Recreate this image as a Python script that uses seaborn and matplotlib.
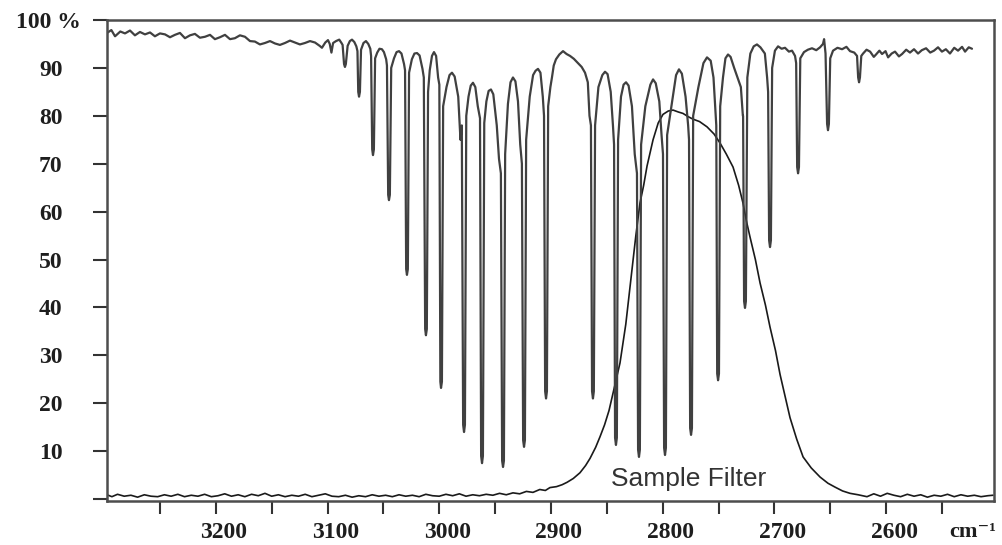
import matplotlib
matplotlib.use("Agg")
import matplotlib.pyplot as plt
from matplotlib.transforms import ScaledTranslation
import pandas as pd
import seaborn as sns

# ---------------- data ----------------
# absorption spectrum trace: wavenumber (cm-1) and transmission (%)
spec_wn = [
    3297.4, 3293.5, 3290.2, 3285.5, 3281.3, 3276.8, 3272.4, 3267.9, 3263.4, 3258.9,
    3254.5, 3250.0, 3245.5, 3241.0, 3236.6, 3232.1, 3227.6, 3223.1, 3218.7, 3214.2,
    3209.7, 3205.2, 3200.8, 3196.3, 3191.8, 3187.3, 3182.9, 3178.4, 3173.9, 3169.4,
    3165.0, 3160.5, 3156.0, 3151.5, 3147.0, 3142.6, 3138.1, 3133.6, 3129.1, 3124.7,
    3120.2, 3115.7, 3111.2, 3107.0, 3105.0, 3102.0, 3099.6, 3098.0, 3096.5, 3095.0,
    3092.4, 3089.5, 3087.5,
    3086.5, 3085.2, 3084.4, 3083.6, 3082.0,
    3080.0, 3078.1, 3076.0, 3074.2,
    3073.2, 3072.5, 3071.8, 3071.0, 3070.0,
    3067.8, 3065.6, 3063.5, 3061.7,
    3061.0, 3060.0, 3059.3, 3058.5, 3057.4,
    3055.5, 3053.5, 3051.3, 3049.5, 3047.5,
    3046.8, 3045.7, 3045.0, 3044.2, 3043.0,
    3040.5, 3038.2, 3036.0, 3033.8, 3031.5,
    3030.6, 3029.6, 3028.9, 3028.1, 3027.0,
    3024.5, 3022.2, 3019.9, 3017.6, 3015.0,
    3013.8, 3012.6, 3011.9, 3011.1, 3010.0,
    3008.5, 3006.5, 3004.7, 3002.8, 3001.0,
    2999.9, 2999.0, 2998.4, 2997.6, 2996.5,
    2993.5, 2990.8, 2988.6, 2986.2, 2983.0, 2981.0,
    2979.8, 2978.6, 2977.8, 2977.0, 2975.8,
    2973.8, 2971.8, 2969.8, 2967.7, 2965.5,
    2963.5, 2962.5, 2961.7, 2960.9, 2959.7,
    2957.8, 2955.8, 2953.7, 2951.6, 2948.5, 2946.5,
    2944.8, 2943.7, 2942.9, 2942.1, 2941.0,
    2938.5, 2936.2, 2934.0, 2931.8, 2929.5, 2927.5,
    2926.0, 2924.9, 2924.1, 2923.3, 2922.2,
    2919.0, 2916.0, 2913.8, 2911.6, 2909.4, 2907.3,
    2906.2, 2905.2, 2904.4, 2903.6, 2902.5,
    2900.5, 2899.1, 2897.5, 2895.5, 2892.5, 2889.2, 2886.0, 2882.9, 2879.5, 2875.8,
    2872.5, 2869.5, 2867.0, 2865.5,
    2864.2, 2863.2, 2862.4, 2861.6, 2860.5,
    2857.5, 2854.0, 2851.6, 2849.3, 2846.5, 2844.5,
    2843.5, 2842.6, 2841.8, 2841.0, 2839.9,
    2837.3, 2835.0, 2832.8, 2830.5, 2827.5, 2825.0,
    2823.0, 2822.0, 2821.2, 2820.4, 2819.3,
    2815.5, 2811.0, 2808.6, 2806.2, 2803.0, 2801.0,
    2799.7, 2798.7, 2797.9, 2797.1, 2796.0,
    2791.5, 2788.0, 2785.4, 2782.8, 2779.5, 2777.2,
    2776.4, 2775.4, 2774.6, 2773.8, 2772.7,
    2768.0, 2763.5, 2760.3, 2757.0, 2754.5, 2752.5,
    2752.0, 2751.2, 2750.4, 2749.6, 2748.5,
    2746.0, 2743.8, 2741.5, 2739.2, 2736.0, 2730.0, 2728.2,
    2728.0, 2727.1, 2726.3, 2725.5, 2724.2,
    2721.5, 2718.5, 2715.6, 2712.5, 2708.5, 2706.5,
    2705.6, 2704.7, 2703.9, 2703.1, 2702.0,
    2699.5, 2696.7, 2693.5, 2690.5, 2687.0, 2684.2, 2681.5,
    2680.5, 2679.6, 2678.8, 2678.0, 2676.8,
    2673.5, 2670.0, 2666.3, 2662.5, 2659.1, 2656.5, 2655.5, 2654.2,
    2652.8, 2652.0, 2651.2, 2650.0,
    2647.5, 2643.5, 2639.4, 2635.5, 2632.3, 2628.5, 2626.0,
    2625.0, 2624.2, 2623.4, 2622.2,
    2620.6, 2617.5, 2614.3, 2611.0, 2609.0, 2606.0, 2603.6, 2600.5, 2598.2, 2595.0,
    2592.0, 2588.5, 2585.7, 2582.0, 2578.6, 2575.0, 2571.4, 2568.0, 2564.2, 2560.5,
    2557.1, 2553.5, 2550.0, 2546.5, 2542.8, 2539.0, 2535.6, 2532.0, 2529.3, 2526.0,
    2523.1,
]
spec_pct = [
    97.3, 97.9, 96.6, 97.6, 97.2, 97.8, 96.8, 97.5, 97.0, 97.4,
    96.6, 97.2, 97.0, 96.4, 96.9, 97.3, 96.2, 96.8, 97.1, 96.3,
    96.5, 96.9, 96.0, 96.4, 96.9, 96.0, 96.2, 96.8, 96.5, 95.6,
    95.5, 94.9, 95.2, 95.6, 95.1, 94.8, 95.2, 95.7, 95.3, 94.9,
    95.2, 95.6, 95.3, 94.6, 94.2, 95.3, 95.8, 95.0, 93.2, 95.2,
    95.6, 95.9, 95.2,
    94.8, 90.8, 90.2, 90.8, 94.6,
    95.6, 95.9, 95.4, 94.5,
    93.5, 85.0, 84.0, 85.0, 93.8,
    95.2, 95.6, 95.0, 94.0,
    92.5, 73.0, 71.8, 73.0, 92.0,
    93.2, 94.0, 93.9, 93.3, 91.8,
    90.5, 63.5, 62.4, 63.5, 90.0,
    92.0, 93.3, 93.5, 93.0, 90.8,
    89.5, 48.0, 46.8, 48.0, 89.0,
    91.8, 93.0, 93.1, 92.6, 89.8,
    88.0, 35.5, 34.2, 35.5, 85.0,
    89.5, 92.5, 93.3, 92.5, 88.0,
    86.5, 24.5, 23.2, 24.5, 82.0,
    86.0, 88.5, 89.0, 88.2, 84.0, 75.0,
    78.0, 15.5, 14.0, 15.5, 80.0,
    84.0, 86.3, 86.9, 86.0, 82.0,
    79.5, 9.0, 7.5, 9.0, 78.5,
    83.0, 85.2, 85.5, 84.5, 78.0, 71.0,
    68.0, 8.0, 6.7, 8.0, 72.0,
    82.5, 87.0, 88.0, 87.2, 83.0, 74.0,
    70.0, 12.3, 10.9, 12.3, 75.0,
    84.0, 88.5, 89.4, 89.8, 89.0, 84.0,
    80.0, 22.5, 21.0, 22.5, 82.0,
    86.0, 88.0, 90.5, 91.8, 92.8, 93.5, 92.9, 92.5, 91.9, 91.0,
    90.2, 89.0, 87.0, 80.0,
    78.0, 22.5, 21.0, 22.5, 78.0,
    86.0, 88.5, 89.2, 88.7, 85.0, 78.0,
    74.0, 12.8, 11.3, 12.8, 75.0,
    84.0, 86.5, 87.0, 86.3, 82.0, 72.0,
    68.0, 10.3, 8.8, 10.3, 74.0,
    82.0, 86.5, 87.6, 86.8, 83.0, 76.0,
    72.0, 10.7, 9.2, 10.7, 76.0,
    83.0, 88.5, 89.7, 88.8, 84.0, 78.0,
    75.0, 14.8, 13.4, 14.8, 80.0,
    86.0, 91.0, 92.2, 91.5, 88.0, 80.0,
    78.0, 26.2, 24.8, 26.2, 82.0,
    88.0, 92.0, 92.8, 92.3, 90.0, 86.0, 80.0,
    80.0, 41.3, 39.9, 41.3, 88.0,
    93.0, 94.5, 94.9, 94.3, 93.0, 88.0,
    85.0, 54.0, 52.6, 54.0, 90.0,
    93.6, 94.5, 94.0, 94.2, 93.4, 93.6, 92.5,
    91.0, 69.3, 68.0, 69.3, 92.0,
    93.3, 93.8, 94.1, 93.7, 94.3, 95.0, 96.0, 93.0,
    78.3, 77.0, 78.3, 92.0,
    93.6, 94.2, 93.9, 94.4, 93.5, 93.2, 92.5,
    88.0, 87.0, 88.0, 92.5,
    93.0, 93.8, 93.4, 92.3, 92.8, 93.6, 92.9, 93.5, 92.2, 93.0,
    93.4, 92.4, 92.9, 93.8, 93.2, 93.9, 93.0, 93.7, 94.1, 93.2,
    93.6, 94.3, 93.4, 93.9, 93.0, 94.2, 93.6, 94.4, 93.4, 94.3,
    94.0,
]

# sample filter transmission curve
filter_wn = [
    3297.4, 3293, 3288, 3282, 3276, 3270, 3264, 3258, 3252, 3246,
    3240, 3234, 3228, 3222, 3216, 3210, 3204, 3198, 3192, 3186,
    3180, 3174, 3168, 3162, 3156, 3150, 3144, 3138, 3132, 3126,
    3120, 3114, 3108, 3102, 3096, 3090, 3084, 3078, 3072, 3066,
    3060, 3054, 3048, 3042, 3036, 3030, 3024, 3018, 3012, 3006,
    3000, 2994, 2988, 2982, 2976, 2970, 2964, 2958, 2952, 2946,
    2940, 2934, 2928, 2922, 2916.1, 2910, 2905, 2900.9, 2895, 2890,
    2885.6, 2880, 2874.0, 2869, 2865.0, 2860, 2856.1, 2852, 2848.0, 2843,
    2838.2, 2833, 2827.5, 2824, 2820.3, 2817, 2814.0, 2811, 2808.6, 2804,
    2799.7, 2795, 2790.7, 2786, 2781.8, 2777, 2772.8, 2767, 2760.3, 2754,
    2748.6, 2743, 2737.0, 2732, 2728.1, 2725, 2721.8, 2717, 2712.8, 2708,
    2703.9, 2699, 2694.9, 2690, 2686.0, 2680, 2674.3, 2667, 2659.1, 2652,
    2645.7, 2639, 2632.3, 2625, 2617.1, 2611, 2605, 2599, 2593, 2587,
    2581, 2575, 2569, 2563, 2557, 2551, 2545, 2539, 2533, 2527,
    2521, 2515, 2509, 2504.3,
]
filter_pct = [
    0.9, 0.5, 1.0, 0.6, 0.8, 0.4, 0.9, 0.6, 0.5, 0.9,
    0.6, 1.0, 0.5, 0.8, 0.6, 1.0, 0.5, 0.7, 1.1, 0.6,
    0.9, 0.5, 1.0, 0.7, 1.2, 0.6, 0.9, 0.5, 0.8, 0.6,
    1.0, 0.5, 0.8, 1.1, 0.6, 0.5, 0.8, 0.4, 0.7, 0.5,
    0.9, 0.6, 0.8, 0.5, 0.9, 0.6, 0.8, 0.5, 1.0, 0.7,
    0.6, 1.0, 0.7, 1.1, 0.6, 0.9, 0.7, 1.0, 0.8, 1.2,
    0.9, 1.3, 1.1, 1.6, 1.4, 2.0, 1.8, 2.4, 2.6, 3.0,
    3.5, 4.3, 5.5, 7.0, 8.5, 10.8, 13.0, 15.5, 18.5, 23.5,
    28.4, 36.5, 47.8, 55.0, 61.8, 65.5, 69.5, 72.5, 75.0, 78.5,
    80.3, 81.0, 81.2, 80.8, 80.5, 79.8, 79.3, 78.8, 77.7, 76.2,
    74.3, 72.0, 69.3, 65.5, 61.8, 58.0, 54.7, 50.0, 45.1, 40.5,
    35.9, 31.0, 26.0, 21.0, 17.0, 12.5, 8.8, 6.5, 4.6, 3.3,
    2.5, 1.7, 1.2, 0.9, 0.5, 1.1, 0.6, 1.2, 0.8, 0.5,
    1.0, 0.6, 0.9, 0.4, 0.8, 0.6, 1.0, 0.5, 0.9, 0.6,
    0.8, 0.5, 0.7, 0.8,
]

xtick_vals = [3250, 3200, 3150, 3100, 3050, 3000, 2950, 2900, 2850, 2800,
              2750, 2700, 2650, 2600, 2550]
xtick_labels = ["", "3200", "", "3100", "", "3000", "", "2900", "", "2800",
                "", "2700", "", "2600", ""]
ytick_vals = [0, 10, 20, 30, 40, 50, 60, 70, 80, 90, 100]
ytick_labels = ["", "10", "20", "30", "40", "50", "60", "70", "80", "90", "100 %"]
filter_label = "Sample Filter"
unit_label = "cm\u207b\u00b9"

# ---------------- plotting ----------------
sns.set_theme(style="white")
plt.rcParams["font.family"] = ["Liberation Serif", "DejaVu Serif"]

W, H = 1002, 545
fig = plt.figure(figsize=(W / 100, H / 100), dpi=100)
ax = fig.add_axes([107 / W, 1 - 501 / H, (994 - 107) / W, 481 / H])

spec_df = pd.DataFrame({"wn": spec_wn, "pct": spec_pct})
filt_df = pd.DataFrame({"wn": filter_wn, "pct": filter_pct})

sns.lineplot(data=filt_df, x="wn", y="pct", sort=False, estimator=None,
             color="#1a1a1a", lw=1.2, ax=ax)
sns.lineplot(data=spec_df, x="wn", y="pct", sort=False, estimator=None,
             color="#404040", lw=1.6, ax=ax)

ax.set_xlim(3297.4, 2503.4)
ax.set_ylim(-0.4, 100)
ax.set_xlabel("")
ax.set_ylabel("")

ax.set_xticks(xtick_vals)
ax.set_xticklabels(xtick_labels)
ax.set_yticks(ytick_vals)
ax.set_yticklabels(ytick_labels)

for lab in ax.get_xticklabels() + ax.get_yticklabels():
    lab.set_fontfamily(["Liberation Serif", "DejaVu Serif"])
    lab.set_fontweight("bold")
    lab.set_fontsize(17)
    lab.set_color("#1e1e1e")

ax.tick_params(axis="x", direction="out", length=9, width=1.5, color="#333333",
               pad=6, bottom=True)
ax.tick_params(axis="y", direction="out", length=10, width=1.5, color="#333333",
               pad=22, left=True)

# shift x labels slightly right as in the reference
for lab in ax.get_xticklabels():
    lab.set_transform(lab.get_transform() + ScaledTranslation(8 / 100, 0, fig.dpi_scale_trans))
# "100 %" label sits closer to the axis
ylabs = ax.get_yticklabels()
ylabs[-1].set_transform(ylabs[-1].get_transform() + ScaledTranslation(18 / 100, 0, fig.dpi_scale_trans))

for side in ["left", "right", "top", "bottom"]:
    ax.spines[side].set_visible(True)
    ax.spines[side].set_color("#4d4d4d")
    ax.spines[side].set_linewidth(1.8)

ax.text(2776.4, 2.7, filter_label, ha="center", va="baseline", fontsize=19,
        color="#333333", family=["Liberation Sans", "DejaVu Sans"])

fig.text(973 / W, 1 - 532 / H, unit_label, ha="center", va="center", fontsize=16,
         fontweight="bold", color="#1e1e1e", family=["Liberation Serif", "DejaVu Serif"])

fig.savefig("out.png", dpi=100, facecolor="white")
